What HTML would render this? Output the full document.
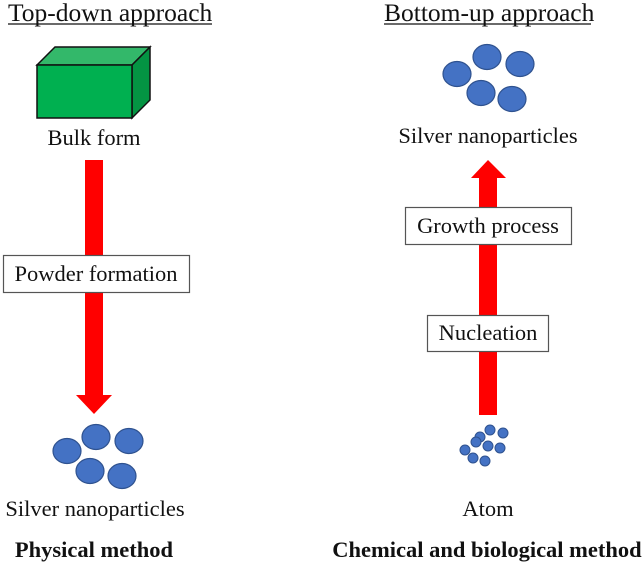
<!DOCTYPE html>
<html><head><style>body{margin:0;background:#fff}</style></head><body>
<svg width="644" height="567" viewBox="0 0 644 567" xmlns="http://www.w3.org/2000/svg" font-family="Liberation Serif, serif">
<rect width="644" height="567" fill="#fff"/>
<text x="8" y="21" font-size="25.5" fill="#111">Top-down approach</text>
<line x1="8" y1="24" x2="212" y2="24" stroke="#111" stroke-width="1.3"/>
<text x="384" y="21" font-size="25.5" fill="#111">Bottom-up approach</text>
<line x1="384" y1="24" x2="591" y2="24" stroke="#111" stroke-width="1.3"/>
<!-- cube -->
<polygon points="37,65 55,47 150,47 132,65" fill="#33b86a" stroke="#111" stroke-width="1.5"/>
<polygon points="132,65 150,47 150,100 132,118" fill="#049443" stroke="#111" stroke-width="1.5"/>
<rect x="37" y="65" width="95" height="53" fill="#00b050" stroke="#111" stroke-width="1.5"/>
<text x="94" y="145" font-size="22.5" text-anchor="middle" fill="#111">Bulk form</text>
<!-- left arrow -->
<rect x="85" y="160" width="18" height="236" fill="#ff0000"/>
<polygon points="76,395 112,395 94,414" fill="#ff0000"/>
<rect x="3.5" y="255.5" width="186" height="37" fill="#fff" stroke="#555" stroke-width="1.2"/>
<text x="96" y="281" font-size="22.5" text-anchor="middle" fill="#111">Powder formation</text>
<g fill="#4472c4" stroke="#2f528f" stroke-width="1.2">
<ellipse cx="67" cy="451" rx="14" ry="12.5"/>
<ellipse cx="96" cy="437" rx="14" ry="12.5"/>
<ellipse cx="129" cy="441" rx="14" ry="12.5"/>
<ellipse cx="90" cy="471" rx="14" ry="12.5"/>
<ellipse cx="122" cy="476" rx="14" ry="12.5"/>
</g>
<text x="95" y="516" font-size="22.5" text-anchor="middle" fill="#111">Silver nanoparticles</text>
<text x="94" y="557" font-size="22.5" font-weight="bold" text-anchor="middle" fill="#111">Physical method</text>
<!-- right -->
<g fill="#4472c4" stroke="#2f528f" stroke-width="1.2">
<ellipse cx="457" cy="74" rx="14" ry="12.5"/>
<ellipse cx="487" cy="57" rx="14" ry="12.5"/>
<ellipse cx="520" cy="64" rx="14" ry="12.5"/>
<ellipse cx="481" cy="93" rx="14" ry="12.5"/>
<ellipse cx="512" cy="99" rx="14" ry="12.5"/>
</g>
<text x="488" y="143" font-size="22.5" text-anchor="middle" fill="#111">Silver nanoparticles</text>
<rect x="479" y="177" width="18" height="238" fill="#ff0000"/>
<polygon points="471,178 506,178 488,160" fill="#ff0000"/>
<rect x="405.5" y="207.5" width="166" height="37" fill="#fff" stroke="#555" stroke-width="1.2"/>
<text x="488" y="233" font-size="22.5" text-anchor="middle" fill="#111">Growth process</text>
<rect x="427.5" y="315.5" width="121" height="36" fill="#fff" stroke="#555" stroke-width="1.2"/>
<text x="488" y="340" font-size="22.5" text-anchor="middle" fill="#111">Nucleation</text>
<g fill="#4472c4" stroke="#2f528f" stroke-width="1">
<circle cx="490" cy="430" r="5"/><circle cx="503" cy="433" r="5"/>
<circle cx="480" cy="437" r="5"/><circle cx="476" cy="442" r="5"/>
<circle cx="488" cy="446" r="5"/><circle cx="500" cy="448" r="5"/>
<circle cx="465" cy="450" r="5"/><circle cx="473" cy="458" r="5"/>
<circle cx="485" cy="461" r="5"/>
</g>
<text x="488" y="516" font-size="22.5" text-anchor="middle" fill="#111">Atom</text>
<text x="487" y="557" font-size="22.5" font-weight="bold" text-anchor="middle" fill="#111">Chemical and biological method</text>
</svg>
</body></html>
